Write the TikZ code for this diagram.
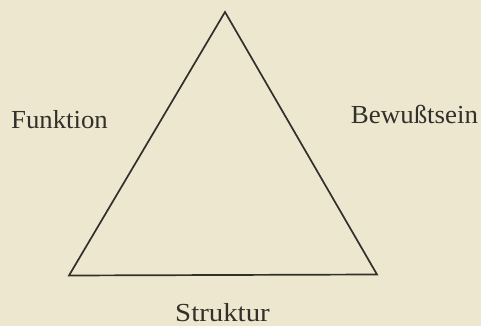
\documentclass[tikz,border=0pt]{standalone}
\usepackage{fontspec}
\setmainfont{Liberation Serif}
\definecolor{paper}{RGB}{237,231,208}
\definecolor{ink}{RGB}{50,48,42}
\begin{document}
\begin{tikzpicture}[x=1pt,y=1pt,
  lbl/.style={anchor=base,text=ink,inner sep=0pt,font=\fontsize{26}{30}\selectfont}]
\fill[paper] (0,0) rectangle (481,326);
\useasboundingbox (0,0) rectangle (481,326);
\coordinate (top) at (225,314);
\coordinate (bl) at (69,50.5);
\coordinate (br) at (377,51.5);
\draw[ink,line width=1.7pt,line join=miter] (top) -- (bl) -- (br) -- cycle;
\node[lbl] (f) at (59.5,197) {\scalebox{1.03}[1]{Funktion}};
\node[lbl] (b) at (414.5,202) {\scalebox{1.035}[1]{Bewußtsein}};
\node[lbl] (s) at (222.5,5) {\scalebox{1.11}[1]{Struktur}};
\end{tikzpicture}
\end{document}
